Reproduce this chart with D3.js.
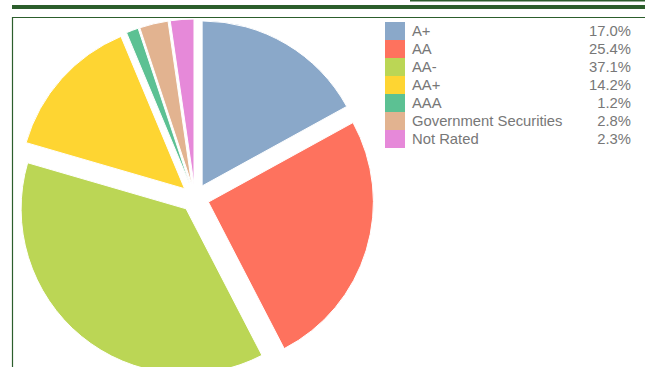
<!DOCTYPE html>
<html>
<head>
<meta charset="utf-8">
<script src="https://cdn.jsdelivr.net/npm/d3@7/dist/d3.min.js"></script>
<style>
  html, body { margin: 0; padding: 0; background: #fff; }
  svg { display: block; }
</style>
</head>
<body>
<svg id="chart" width="645" height="367"></svg>
<script>
// Portfolio credit-quality breakdown (share of holdings, %)
const categories = ["A+", "AA", "AA-", "AA+", "AAA", "Government Securities", "Not Rated"];
const values = [17.0, 25.4, 37.1, 14.2, 1.2, 2.8, 2.3];
const colors = ["#8aa8c9", "#fe725e", "#bbd655", "#fed532", "#5cc193", "#e2b390", "#e689d9"];

const W = 645, H = 367;
const svg = d3.select("#chart");
const frameGreen = "#2c5e2c";

// header rules and frame
svg.append("rect").attr("x", 410).attr("y", 0).attr("width", W - 410).attr("height", 1.5).attr("fill", frameGreen);
svg.append("rect").attr("x", 12).attr("y", 5).attr("width", W - 12).attr("height", 4).attr("fill", frameGreen);
svg.append("path")
  .attr("d", `M${W + 2},17.5 H12.5 V${H + 2}`)
  .attr("fill", "none").attr("stroke", frameGreen).attr("stroke-width", 1.2);

// clip the pie to the frame interior
svg.append("clipPath").attr("id", "frameClip")
  .append("rect").attr("x", 13).attr("y", 18).attr("width", W).attr("height", H);

// exploded pie, clockwise from 12 o'clock
const cx = 195, cy = 198, R = 165, explode = 14;
const pie = d3.pie().sort(null).value(d => d)(values);
const arc = d3.arc().innerRadius(0).outerRadius(R);

const pieG = svg.append("g").attr("clip-path", "url(#frameClip)")
  .append("g").attr("transform", `translate(${cx},${cy})`);

pieG.selectAll("path")
  .data(pie)
  .join("path")
  .attr("d", arc)
  .attr("fill", (d, i) => colors[i])
  .attr("stroke", "#fff")
  .attr("stroke-width", 1)
  .attr("transform", d => {
    const a = (d.startAngle + d.endAngle) / 2;
    return `translate(${explode * Math.sin(a)},${-explode * Math.cos(a)})`;
  });

// legend
const lx = 385, ly = 22, rowH = 18;
const fmt = d3.format(".1f");
const legend = svg.append("g");
const rows = legend.selectAll("g")
  .data(categories)
  .join("g")
  .attr("transform", (d, i) => `translate(${lx},${ly + i * rowH})`);

rows.append("rect")
  .attr("width", 20).attr("height", rowH)
  .attr("fill", (d, i) => colors[i]);

rows.append("text")
  .attr("x", 27).attr("y", rowH / 2 + 5)
  .attr("font-family", "Liberation Sans, Arial, sans-serif")
  .attr("font-size", 14.8)
  .attr("fill", "#777")
  .text(d => d);

rows.append("text")
  .attr("x", 631 - lx).attr("y", rowH / 2 + 5)
  .attr("text-anchor", "end")
  .attr("font-family", "Liberation Sans, Arial, sans-serif")
  .attr("font-size", 14.8)
  .attr("fill", "#777")
  .text((d, i) => fmt(values[i]) + "%");
</script>
</body>
</html>
